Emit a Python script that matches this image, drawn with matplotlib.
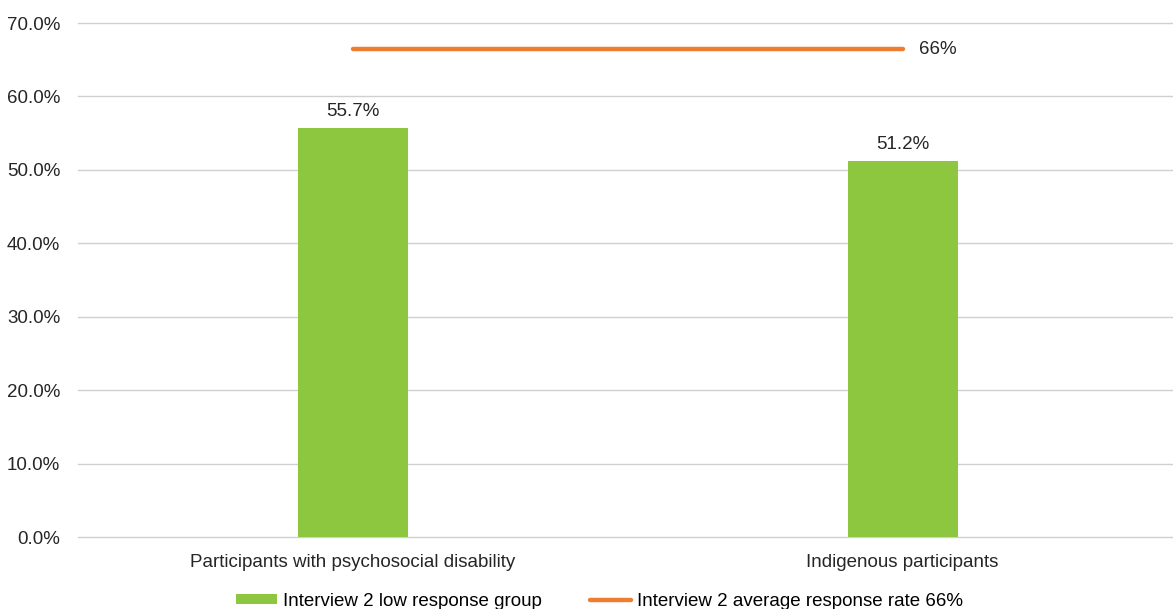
import matplotlib.pyplot as plt
from matplotlib.ticker import FuncFormatter

plt.rcParams['font.family'] = ['Liberation Sans', 'DejaVu Sans']

categories = ["Participants with psychosocial disability", "Indigenous participants"]
low_response = [55.7, 51.2]
avg_rate = 66.4
bar_label = "Interview 2 low response group"
line_label = "Interview 2 average response rate 66%"

green = '#8DC63F'
orange = '#ED7D31'
fs = 13.5

fig = plt.figure(figsize=(11.73, 6.09), dpi=100)
ax = fig.add_axes([0.0667, 0.1182, 0.937, 0.844])

x = list(range(len(categories)))
bars = ax.bar(x, low_response, width=0.2, color=green, label=bar_label, zorder=3)
ax.bar_label(bars, labels=[f"{v:.1f}%" for v in low_response], padding=6,
             fontsize=fs, color='#262626')

# average response rate drawn across both categories
line, = ax.plot(x, [avg_rate] * len(x), color=orange, lw=3.2,
                solid_capstyle='round', label=line_label, zorder=4)
ax.annotate(f"{avg_rate:.0f}%", xy=(x[-1], avg_rate), xytext=(12, 0),
            textcoords='offset points', va='center', ha='left',
            fontsize=fs, color='#262626')

ax.set_xlim(-0.5, 1.5)
ax.set_ylim(0, 70)
ax.set_yticks(range(0, 71, 10))
ax.yaxis.set_major_formatter(FuncFormatter(lambda v, _: f"{v:.1f}%"))
ax.set_xticks(x)
ax.set_xticklabels(categories)
ax.tick_params(axis='both', length=0, labelsize=fs, colors='#262626')
ax.tick_params(axis='y', pad=13)
ax.tick_params(axis='x', pad=12)

ax.grid(axis='y', color='#d0d0d0', lw=1, zorder=0)
for gl in ax.get_ygridlines():
    gl.set_clip_on(False)
for s in ax.spines.values():
    s.set_visible(False)

fig.legend(handles=[bars, line], labels=[bar_label, line_label],
           loc='center', bbox_to_anchor=(0.511, 0.013), ncol=2,
           frameon=False, fontsize=fs, handlelength=2.2, handleheight=0.45,
           handletextpad=0.3, columnspacing=2.6, borderpad=0, borderaxespad=0)

fig.savefig('out.png', dpi=100)
